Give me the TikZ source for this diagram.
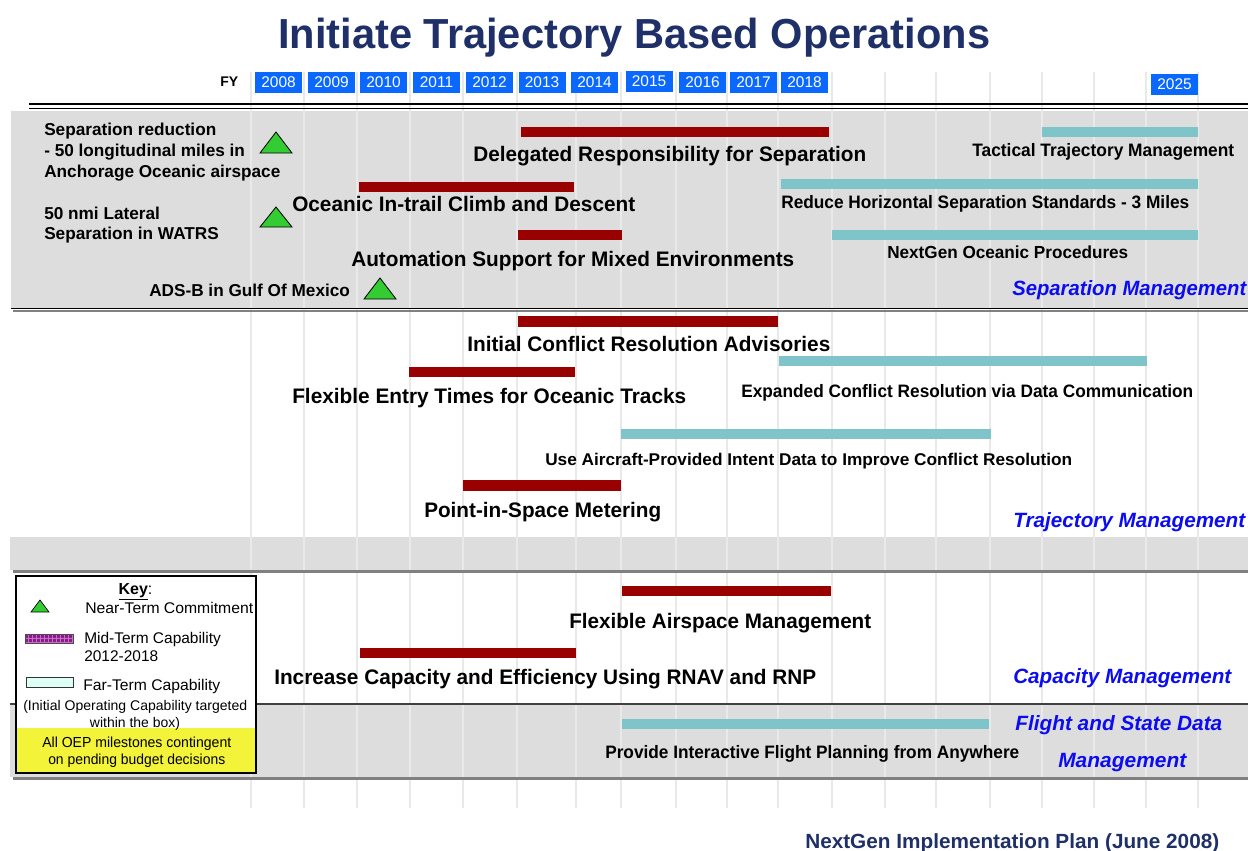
\documentclass[tikz,border=0pt]{standalone}
\usepackage{graphicx}
\usepackage{fontspec}
\setmainfont{Liberation Sans}
\usetikzlibrary{patterns}
\newlength\pxu \setlength\pxu{0.75pt}
\newcommand\tw[3]{\resizebox{#1\pxu}{\height}{\fontsize{#2}{#2}\selectfont #3}}
\newcommand\fsz[1]{\fontsize{#1}{#1}\selectfont}
\definecolor{navy}{RGB}{31,48,104}
\definecolor{bandgray}{RGB}{221,221,221}
\definecolor{gridc}{RGB}{233,233,233}
\definecolor{barred}{RGB}{153,0,0}
\definecolor{barcyan}{RGB}{127,196,201}
\definecolor{msgreen}{RGB}{51,204,51}
\definecolor{yrblue}{RGB}{10,104,255}
\definecolor{catblue}{RGB}{12,12,240}
\definecolor{shadowgray}{RGB}{128,128,128}
\definecolor{keypurple}{RGB}{139,26,139}
\definecolor{keydots}{RGB}{200,110,200}
\definecolor{keycyan}{RGB}{222,255,246}
\definecolor{keyyellow}{RGB}{243,243,58}
\tikzset{
  lbl/.style={inner sep=0pt, anchor=base west, font=\bfseries, text=black},
  klbl/.style={inner sep=0pt, anchor=base west, text=black},
  cat/.style={inner sep=0pt, anchor=base west, font=\bfseries\itshape, text=catblue},
  redbar/.style={fill=barred},
  cyanbar/.style={fill=barcyan},
  ms/.style={fill=msgreen, draw=black, line width=0.6pt, line join=miter},
  yr/.style={fill=yrblue, text=white, inner sep=0pt, minimum width=35.25pt, minimum height=15.75pt, font=\fsz{11.6pt}},
  gridline/.style={draw=gridc, line width=0.8pt},
  band/.style={fill=bandgray},
  shade/.style={draw=shadowgray, line width=1.9pt}
}
\begin{document}
\begin{tikzpicture}[x=0.75pt,y=-0.75pt]
\useasboundingbox (0,0) rectangle (1248,850);
\fill[white] (0,0) rectangle (1248,850);

% bands
\fill[band] (11,111) rectangle (1248,308);
\fill[band] (10,537) rectangle (1248,570);
\fill[band] (10,705) rectangle (1248,777);

% grid lines
\foreach \gx in {251,304,357,410,463,517,576,621,676,727,778,832,885,936,990,1042,1094,1146,1198}
  \draw[gridline] (\gx,72) -- (\gx,808);

% horizontal rules
\draw[line width=1.5pt] (29,104) -- (1248,104);
\draw[line width=0.75pt] (29,108.5) -- (1248,108.5);
\draw[line width=1.1pt] (11,308.5) -- (1248,308.5);
\draw[shade] (13,311) -- (1248,311);
\draw[shade] (13,571.5) -- (1248,571.5);
\draw[line width=1.1pt, draw=black!75] (10,704) -- (1248,704);
\draw[shade] (13,778.5) -- (1248,778.5);

% year boxes
\node[lbl] (fy) at (220,86) {\fsz{10.5pt}FY};
\node[yr] (y2008) at (278.5,82.5) {2008};
\node[yr] (y2009) at (331.5,82.5) {2009};
\node[yr] (y2010) at (383.5,82.5) {2010};
\node[yr] (y2011) at (436.5,82.5) {2011};
\node[yr] (y2012) at (489.5,82.5) {2012};
\node[yr] (y2013) at (542,82.5) {2013};
\node[yr] (y2014) at (594.5,82.5) {2014};
\node[yr] (y2015) at (649,81.5) {2015};
\node[yr] (y2016) at (702.5,82.5) {2016};
\node[yr] (y2017) at (753.5,82.5) {2017};
\node[yr] (y2018) at (804.5,82.5) {2018};
\node[yr] (y2025) at (1174.5,84.5) {2025};

% title and footer
\node[inner sep=0pt, anchor=base west, font=\bfseries, text=navy] (title) at (278,48) {\tw{712}{31.5pt}{Initiate Trajectory Based Operations}};
\node[inner sep=0pt, anchor=base west, font=\bfseries, text=navy] (footer) at (805,848) {\tw{414}{15.4pt}{NextGen Implementation Plan (June 2008)}};

% ---- Separation Management ----
\path[ms] (276,132) -- (292,153) -- (260,153) -- cycle;
\path[ms] (276,207) -- (292,227) -- (260,227) -- cycle;
\path[ms] (380,278) -- (396,299) -- (364,299) -- cycle;
\node[lbl] (sr1) at (44,135) {\fsz{12.9pt}Separation reduction};
\node[lbl] (sr2) at (44,156) {\fsz{12.9pt}- 50 longitudinal miles in};
\node[lbl] (sr3) at (44,177) {\fsz{12.9pt}Anchorage Oceanic airspace};
\node[lbl] (lat1) at (44,219) {\fsz{12.9pt}50 nmi Lateral};
\node[lbl] (lat2) at (44,239) {\fsz{12.9pt}Separation in WATRS};
\node[lbl] (adsb) at (149,296) {\fsz{12.9pt}ADS-B in Gulf Of Mexico};

\fill[redbar] (521,127) rectangle (829,137);
\node[lbl] (drs) at (473,161) {\tw{393}{15.75pt}{Delegated Responsibility for Separation}};
\fill[redbar] (359,182) rectangle (574,192);
\node[lbl] (oic) at (292,211) {\tw{343}{15.75pt}{Oceanic In-trail Climb and Descent}};
\fill[redbar] (518,230) rectangle (622,240);
\node[lbl] (asme) at (351,266) {\tw{443}{15.75pt}{Automation Support for Mixed Environments}};
\fill[cyanbar] (1042,127) rectangle (1198,137);
\node[lbl] (ttm) at (972,156) {\tw{262}{13.5pt}{Tactical Trajectory Management}};
\fill[cyanbar] (781,179) rectangle (1198,189);
\node[lbl] (rhs) at (781,208) {\tw{408}{13.5pt}{Reduce Horizontal Separation Standards - 3 Miles}};
\fill[cyanbar] (832,230) rectangle (1198,240);
\node[lbl] (nop) at (887,258) {\tw{241}{13.1pt}{NextGen Oceanic Procedures}};
\node[cat] (catsep) at (1012,295) {\tw{234}{15.5pt}{Separation Management}};

% ---- Trajectory Management ----
\fill[redbar] (518,316) rectangle (778,327);
\node[lbl] (icra) at (467,351) {\tw{363}{15.75pt}{Initial Conflict Resolution Advisories}};
\fill[cyanbar] (779,356) rectangle (1147,366);
\node[lbl] (ecr) at (741,397) {\tw{452}{13.5pt}{Expanded Conflict Resolution via Data Communication}};
\fill[redbar] (409,367) rectangle (575,377);
\node[lbl] (fet) at (292,403) {\tw{394}{15.75pt}{Flexible Entry Times for Oceanic Tracks}};
\fill[cyanbar] (621,429) rectangle (991,439);
\node[lbl] (uap) at (545,465) {\tw{527}{12.75pt}{Use Aircraft-Provided Intent Data to Improve Conflict Resolution}};
\fill[redbar] (463,480) rectangle (621,491);
\node[lbl] (pism) at (424,517) {\tw{237}{15.75pt}{Point-in-Space Metering}};
\node[cat] (cattraj) at (1013,527) {\tw{232}{15.5pt}{Trajectory Management}};

% ---- Capacity Management ----
\fill[redbar] (622,586) rectangle (831,596);
\node[lbl] (fam) at (569,628) {\tw{302}{15.75pt}{Flexible Airspace Management}};
\fill[redbar] (360,648) rectangle (576,658);
\node[lbl] (ice) at (274,684) {\tw{542}{15.75pt}{Increase Capacity and Efficiency Using RNAV and RNP}};
\node[cat] (catcap) at (1013,683) {\tw{218}{15.5pt}{Capacity Management}};

% ---- Flight and State Data Management ----
\fill[cyanbar] (622,719) rectangle (989,729);
\node[lbl] (pifp) at (605,758) {\tw{414}{13.5pt}{Provide Interactive Flight Planning from Anywhere}};
\node[cat] (catfl1) at (1015,730) {\tw{207}{15.5pt}{Flight and State Data}};
\node[cat] (catfl2) at (1058,767) {\tw{128}{15.5pt}{Management}};

% ---- Key ----
\fill[white] (16,576) rectangle (256,773);
\fill[keyyellow] (17,728) rectangle (255,772.5);
\draw[line width=0.9pt] (16,576) rectangle (256,773);
\node[inner sep=0pt, anchor=base] (keyt) at (135.5,594) {\fsz{12pt}\underline{\textbf{Key}}:};
\path[ms, line width=0.5pt] (40,600) -- (49,612) -- (31,612) -- cycle;
\node[klbl] (knear) at (85,613) {\tw{168}{11.6pt}{Near-Term Commitment}};
\fill[keypurple] (25,634) rectangle (73,643);
\fill[pattern=grid, pattern color=keydots] (25,634) rectangle (73,643);
\draw[draw=black!70, line width=0.5pt] (25,634) rectangle (73,643);
\node[klbl] (kmid1) at (84,643) {\fsz{11.6pt}Mid-Term Capability};
\node[klbl] (kmid2) at (84,661) {\fsz{11.6pt}2012-2018};
\draw[fill=keycyan, draw=black!80, line width=0.6pt] (26,677) rectangle (73,687);
\node[klbl] (kfar) at (83,690) {\tw{137}{11.6pt}{Far-Term Capability}};
\node[klbl] (kioc1) at (23,710) {\tw{224}{10.5pt}{(Initial Operating Capability targeted}};
\node[inner sep=0pt, anchor=base] (kioc2) at (135,727) {\tw{90}{10.5pt}{within the box)}};
\node[klbl] (koep1) at (42,747) {\tw{189}{10.9pt}{All OEP milestones contingent}};
\node[klbl] (koep2) at (48,764) {\tw{177}{10.9pt}{on pending budget decisions}};
\end{tikzpicture}
\end{document}
